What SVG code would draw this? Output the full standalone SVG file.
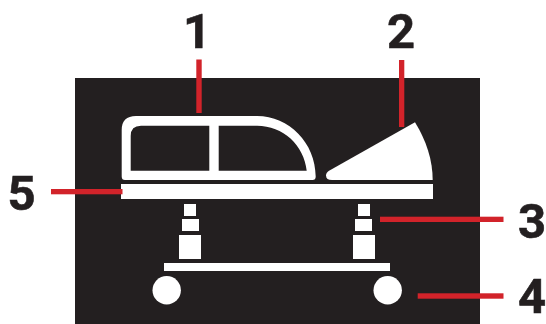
<svg xmlns="http://www.w3.org/2000/svg" width="546" height="324" viewBox="0 0 546 324">
<style>
.shape{fill:#fff}
.lead{fill:#d2232a}
.num{font-family:Roboto,"Liberation Sans",Arial,sans-serif;font-weight:700;font-size:49px;fill:#231f20;stroke:#231f20;stroke-width:.6;text-anchor:middle}
</style>
<rect width="546" height="324" fill="#fff"/>
<rect id="panel" x="75" y="78" width="405" height="246" fill="#231f20"/>
<g id="cabin"><path class="shape" fill-rule="evenodd" d="M136 116H257C289 116 315.700 143 315.700 176.500Q315.700 180 312.500 180H125Q121.700 180 121.700 176.500V130Q121.700 116 136 116ZM209.300 125.700H141Q130.700 125.700 130.700 136V170.700H209.300ZM218.700 125.700V170.700H306.700C304 145 283 125.700 257 125.700Z"/></g>
<g id="wedge"><path class="shape" d="M415 122.300C426 140 432.700 160 432.700 180H332Q326 180 326 175.500Q326 172.500 329.500 170.500Z"/></g>
<g id="platform"><rect class="shape" x="121" y="184" width="312" height="15"/></g>
<g id="piston-left"><rect class="shape" x="184" y="204" width="12" height="12"/><rect class="shape" x="182" y="219" width="17" height="12"/><rect class="shape" x="179" y="235" width="22" height="24"/></g>
<g id="piston-right"><rect class="shape" x="358" y="204" width="12" height="12"/><rect class="shape" x="355" y="219" width="17" height="12"/><rect class="shape" x="353" y="235" width="22" height="24"/></g>
<g id="base"><rect class="shape" x="164" y="263" width="226" height="8"/></g>
<g id="wheel-left"><circle class="shape" cx="166.700" cy="290.300" r="14.200"/></g>
<g id="wheel-right"><circle class="shape" cx="387.700" cy="290.300" r="14.200"/></g>
<g id="connectors">
<rect class="lead" x="196.300" y="59.500" width="5.400" height="53.500"/>
<rect class="lead" x="399" y="60" width="5.300" height="67"/>
<rect class="lead" x="51" y="189" width="71.500" height="5.300"/>
<rect class="lead" x="380" y="216.700" width="123.500" height="5.300"/>
<rect class="lead" x="417.700" y="293.300" width="85.800" height="5.400"/>
</g>
<g id="labels">
<text class="num" x="197" y="48">1</text>
<text class="num" x="401" y="48">2</text>
<text class="num" x="532" y="237.500">3</text>
<text class="num" x="532" y="313">4</text>
<text class="num" x="21.500" y="210">5</text>
</g>
</svg>
